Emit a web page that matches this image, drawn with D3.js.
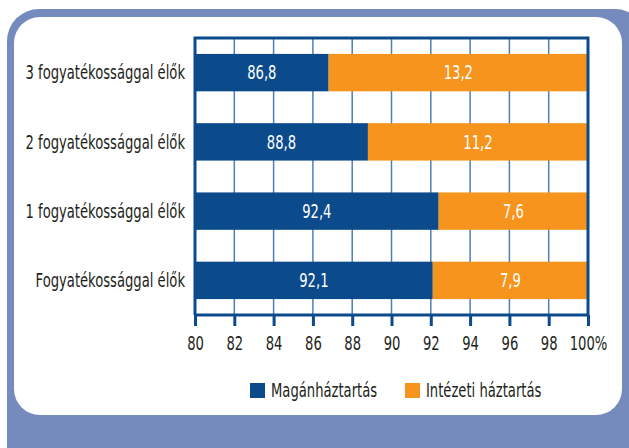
<!DOCTYPE html>
<html>
<head>
<meta charset="utf-8">
<script src="https://cdn.jsdelivr.net/npm/d3@7"></script>
<style>
  body { margin: 0; background: #fff; }
  svg text { font-family: "DejaVu Sans Condensed", "Liberation Sans Narrow", sans-serif; }
</style>
</head>
<body>
<div id="chart"></div>
<script>
// data
var categories = ["3 fogyatékossággal élők", "2 fogyatékossággal élők", "1 fogyatékossággal élők", "Fogyatékossággal élők"];
var magan = [86.8, 88.8, 92.4, 92.1];
var intezeti = [13.2, 11.2, 7.6, 7.9];
var tickValues = [80, 82, 84, 86, 88, 90, 92, 94, 96, 98, 100];
var seriesNames = ["Magánháztartás", "Intézeti háztartás"];
var colors = ["#0b4a8b", "#f7941d"];

var W = 629, H = 448;
var sx = 0.77; // squeeze text horizontally, the original font is condensed

var svg = d3.select("#chart").append("svg")
    .attr("width", W)
    .attr("height", H);

// frame
svg.append("rect")
    .attr("x", 7).attr("y", 9)
    .attr("width", 640).attr("height", 470)
    .attr("rx", 32)
    .style("fill", "#768bbd");
svg.append("rect")
    .attr("x", 14).attr("y", 17)
    .attr("width", 608).attr("height", 398)
    .attr("rx", 26)
    .style("fill", "#fff");

var margin = {left: 195, top: 38, right: 41, bottom: 133};
var width = W - margin.left - margin.right,
    height = H - margin.top - margin.bottom;

var x = d3.scaleLinear().domain([80, 100]).range([0, width]);
var y = d3.scaleBand().domain(categories).range([0, height])
    .paddingInner(0.46).paddingOuter(0.23);

var g = svg.append("g")
    .attr("transform", "translate(" + margin.left + "," + margin.top + ")");

// helper: place a squeezed label
function squeeze(px, py) {
    return "translate(" + px + "," + py + ") scale(" + sx + ",1)";
}

// grid lines
g.selectAll(".grid")
    .data(tickValues.slice(1, -1))
    .enter().append("line")
    .attr("x1", function(d) { return x(d); })
    .attr("x2", function(d) { return x(d); })
    .attr("y1", 0).attr("y2", height)
    .style("stroke", "#4f7fb5")
    .style("stroke-width", 1.5);

var rows = categories.map(function(c, i) {
    return {cat: c, a: magan[i], b: intezeti[i]};
});

// Magánháztartás segments
g.selectAll(".barA")
    .data(rows)
    .enter().append("rect")
    .attr("x", x(80))
    .attr("y", function(d) { return y(d.cat); })
    .attr("width", function(d) { return x(d.a) - x(80); })
    .attr("height", y.bandwidth())
    .style("fill", colors[0]);

// Intézeti segments
g.selectAll(".barB")
    .data(rows)
    .enter().append("rect")
    .attr("x", function(d) { return x(d.a); })
    .attr("y", function(d) { return y(d.cat); })
    .attr("width", function(d) { return x(d.a + d.b) - x(d.a); })
    .attr("height", y.bandwidth())
    .style("fill", colors[1]);

var fmt = function(v) { return d3.format(".1f")(v).replace(".", ","); };

g.selectAll(".labA")
    .data(rows)
    .enter().append("text")
    .attr("transform", function(d) { return squeeze((x(80) + x(d.a)) / 2, y(d.cat) + y.bandwidth() / 2); })
    .attr("dy", "0.36em")
    .style("text-anchor", "middle")
    .style("fill", "#fff")
    .style("font-size", "19px")
    .text(function(d) { return fmt(d.a); });

g.selectAll(".labB")
    .data(rows)
    .enter().append("text")
    .attr("transform", function(d) { return squeeze((x(d.a) + x(d.a + d.b)) / 2, y(d.cat) + y.bandwidth() / 2); })
    .attr("dy", "0.36em")
    .style("text-anchor", "middle")
    .style("fill", "#fff")
    .style("font-size", "19px")
    .text(function(d) { return fmt(d.b); });

// category labels
g.selectAll(".cat")
    .data(categories)
    .enter().append("text")
    .attr("transform", function(d) { return squeeze(-10, y(d) + y.bandwidth() / 2); })
    .attr("dy", "0.36em")
    .style("text-anchor", "end")
    .style("fill", "#231f20")
    .style("font-size", "19px")
    .text(function(d) { return d; });

// frame of plot area (top, left, right)
g.append("path")
    .attr("d", "M0," + height + "V0H" + width + "V" + height)
    .style("fill", "none")
    .style("stroke", colors[0])
    .style("stroke-width", 3);

// x axis
var xAxis = d3.axisBottom(x)
    .tickValues(tickValues)
    .tickSize(11)
    .tickFormat(function(d) { return d === 100 ? "100%" : d; });

var ax = g.append("g")
    .attr("transform", "translate(0," + height + ")")
    .call(xAxis);
ax.select(".domain")
    .attr("d", "M0,0H" + width)
    .style("stroke", colors[0])
    .style("stroke-width", 3);
ax.selectAll(".tick line")
    .style("stroke", colors[0])
    .style("stroke-width", 3);
ax.selectAll(".tick text")
    .attr("y", 0)
    .attr("dy", 0)
    .attr("transform", "translate(0,35) scale(" + sx + ",1)")
    .style("font-size", "19px")
    .style("fill", "#231f20");

// legend
var legendX = [250, 405];
var legend = svg.selectAll(".legend")
    .data(seriesNames)
    .enter().append("g")
    .attr("transform", function(d, i) { return "translate(" + legendX[i] + ",383)"; });
legend.append("rect")
    .attr("width", 15).attr("height", 15)
    .style("fill", function(d, i) { return colors[i]; });
legend.append("text")
    .attr("transform", squeeze(21, 7.5))
    .attr("dy", "0.36em")
    .style("font-size", "19px")
    .style("fill", "#231f20")
    .text(function(d) { return d; });
</script>
</body>
</html>
